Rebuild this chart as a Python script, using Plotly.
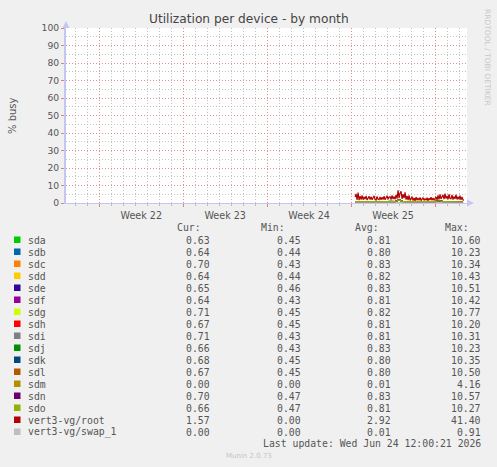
import pandas as pd
import plotly.graph_objects as go

W, H = 497, 467
L, R, T, B = 66, 30, 28, 264  # plot area pixels
PW, PH = W - L - R, H - T - B

def px(x):
    return (x - L) / PW

def py(y):
    return (H - B - y) / PH

# ---------------- data ----------------
t_fine = pd.date_range("2026-06-15 08:00", periods=110, freq="2h")
t_coarse = pd.date_range("2026-06-15 08:00", periods=28, freq="8h")

root = [3.4, 5.2, 1.8, 5.9, 1.6, 3.9, 2.0, 4.3, 1.9, 3.5,
        2.2, 4.0, 1.7, 3.4, 3.8, 1.9, 3.6, 1.8, 3.2, 4.1,
        2.0, 1.7, 3.7, 2.1, 1.9, 3.5, 1.8, 3.3, 2.0, 3.9,
        1.8, 3.2, 4.2, 2.1, 3.4, 3.6, 1.9, 4.3, 2.2, 3.7,
        2.1, 4.6, 2.5, 7.2, 2.8, 5.6, 6.7, 2.3, 5.0, 2.8,
        6.1, 1.9, 4.0, 1.7, 4.4, 1.5, 3.0, 3.6, 1.4, 2.9,
        1.3, 3.4, 1.6, 2.8, 1.5, 3.2, 1.4, 2.7, 3.1, 1.5,
        2.6, 1.6, 3.0, 1.3, 2.7, 1.7, 3.3, 1.6, 2.8, 1.5,
        3.0, 3.5, 1.8, 4.4, 2.0, 4.9, 2.3, 4.1, 4.7, 2.2,
        5.3, 2.5, 4.0, 2.1, 5.0, 2.6, 2.4, 4.6, 1.9, 3.8,
        2.3, 4.8, 2.0, 3.6, 2.1, 4.2, 1.8, 3.5, 1.7, 1.6]
swap_1 = [0.00] * 110

sda = [0.78, 0.74, 0.92, 0.70, 0.81, 0.76, 0.88, 0.72, 0.79, 0.85, 0.73, 1.90, 0.82, 0.76,
       0.71, 0.84, 0.77, 0.80, 0.69, 0.86, 0.74, 1.20, 0.78, 0.83, 0.72, 0.79, 0.70, 0.63]
sdb = [0.76, 0.80, 0.71, 0.86, 0.74, 0.79, 0.83, 0.70, 0.77, 0.88, 0.75, 1.70, 0.80, 0.73,
       0.78, 0.82, 0.71, 0.84, 0.76, 0.79, 0.72, 1.10, 0.81, 0.77, 0.74, 0.80, 0.73, 0.64]
sdc = [0.82, 0.77, 0.90, 0.73, 0.84, 0.79, 0.86, 0.75, 0.81, 0.89, 0.76, 1.80, 0.85, 0.78,
       0.74, 0.87, 0.80, 0.83, 0.72, 0.88, 0.77, 1.30, 0.81, 0.86, 0.75, 0.82, 0.74, 0.70]
sdd = [0.80, 0.75, 0.89, 0.72, 0.83, 0.78, 0.85, 0.74, 0.80, 0.87, 0.75, 1.75, 0.83, 0.77,
       0.73, 0.85, 0.78, 0.82, 0.71, 0.86, 0.76, 1.25, 0.80, 0.84, 0.74, 0.81, 0.73, 0.64]
sde = [0.83, 0.78, 0.91, 0.74, 0.85, 0.80, 0.87, 0.76, 0.82, 0.90, 0.77, 1.85, 0.86, 0.79,
       0.75, 0.88, 0.81, 0.84, 0.73, 0.89, 0.78, 1.30, 0.82, 0.87, 0.76, 0.83, 0.75, 0.65]
sdf = [0.79, 0.76, 0.88, 0.71, 0.82, 0.77, 0.86, 0.73, 0.80, 0.86, 0.74, 1.72, 0.83, 0.76,
       0.72, 0.85, 0.78, 0.81, 0.70, 0.87, 0.75, 1.22, 0.79, 0.84, 0.73, 0.80, 0.72, 0.64]
sdg = [0.80, 0.77, 0.90, 0.72, 0.83, 0.78, 0.87, 0.74, 0.81, 0.88, 0.75, 1.78, 0.84, 0.77,
       0.73, 0.86, 0.79, 0.82, 0.71, 0.88, 0.76, 1.26, 0.80, 0.85, 0.74, 0.81, 0.73, 0.71]
sdh = [0.79, 0.75, 0.89, 0.71, 0.82, 0.77, 0.86, 0.73, 0.80, 0.87, 0.74, 1.74, 0.83, 0.76,
       0.72, 0.85, 0.78, 0.81, 0.70, 0.87, 0.75, 1.24, 0.79, 0.84, 0.73, 0.80, 0.72, 0.67]
sdi = [0.79, 0.76, 0.88, 0.72, 0.82, 0.77, 0.86, 0.74, 0.80, 0.87, 0.74, 1.76, 0.83, 0.77,
       0.72, 0.85, 0.78, 0.81, 0.71, 0.87, 0.75, 1.23, 0.80, 0.84, 0.73, 0.80, 0.72, 0.71]
sdj = [0.82, 0.78, 0.91, 0.73, 0.84, 0.79, 0.88, 0.75, 0.82, 0.89, 0.76, 1.82, 0.85, 0.78,
       0.74, 0.87, 0.80, 0.83, 0.72, 0.89, 0.77, 1.28, 0.81, 0.86, 0.75, 0.82, 0.74, 0.66]
sdk = [0.78, 0.75, 0.87, 0.71, 0.81, 0.76, 0.85, 0.73, 0.79, 0.86, 0.73, 1.73, 0.82, 0.75,
       0.71, 0.84, 0.77, 0.80, 0.70, 0.86, 0.74, 1.21, 0.78, 0.83, 0.72, 0.79, 0.71, 0.68]
sdl = [0.78, 0.76, 0.87, 0.72, 0.81, 0.77, 0.85, 0.73, 0.80, 0.86, 0.74, 1.74, 0.82, 0.76,
       0.71, 0.84, 0.77, 0.80, 0.70, 0.86, 0.74, 1.22, 0.79, 0.83, 0.72, 0.79, 0.71, 0.67]
sdm = [0.00, 0.00, 0.00, 0.00, 0.00, 0.00, 0.00, 0.00, 0.00, 0.00, 0.00, 0.05, 0.00, 0.00,
       0.00, 0.00, 0.00, 0.00, 0.00, 0.00, 0.00, 0.00, 0.00, 0.00, 0.00, 0.00, 0.00, 0.00]
sdn = [0.82, 0.79, 0.92, 0.74, 0.85, 0.80, 0.88, 0.76, 0.83, 0.90, 0.77, 1.86, 0.86, 0.79,
       0.75, 0.88, 0.81, 0.84, 0.73, 0.90, 0.78, 1.30, 0.82, 0.87, 0.76, 0.83, 0.75, 0.70]
sdo = [0.80, 0.77, 0.89, 0.72, 0.83, 0.78, 0.86, 0.74, 0.81, 0.88, 0.75, 1.79, 0.84, 0.77,
       0.73, 0.86, 0.79, 0.82, 0.71, 0.88, 0.76, 1.27, 0.80, 0.85, 0.74, 0.81, 0.73, 0.66]

names = ["sda", "sdb", "sdc", "sdd", "sde", "sdf", "sdg", "sdh", "sdi", "sdj",
         "sdk", "sdl", "sdm", "sdn", "sdo", "vert3-vg/root", "vert3-vg/swap_1"]
series = [sda, sdb, sdc, sdd, sde, sdf, sdg, sdh, sdi, sdj,
          sdk, sdl, sdm, sdn, sdo, root, swap_1]
colors = ["#00CC00", "#0066B3", "#FF8000", "#FFCC00", "#330099", "#990099", "#CCFF00",
          "#FF0000", "#808080", "#008F00", "#00487D", "#B35A00", "#B38F00", "#6B006B",
          "#8FB300", "#B30000", "#BEBEBE"]
cur = ["0.63", "0.64", "0.70", "0.64", "0.65", "0.64", "0.71", "0.67", "0.71", "0.66",
       "0.68", "0.67", "0.00", "0.70", "0.66", "1.57", "0.00"]
mins = ["0.45", "0.44", "0.43", "0.44", "0.46", "0.43", "0.45", "0.45", "0.43", "0.43",
        "0.45", "0.45", "0.00", "0.47", "0.47", "0.00", "0.00"]
avgs = ["0.81", "0.80", "0.83", "0.82", "0.83", "0.81", "0.82", "0.81", "0.81", "0.83",
        "0.80", "0.80", "0.01", "0.83", "0.81", "2.92", "0.01"]
maxs = ["10.60", "10.23", "10.34", "10.43", "10.51", "10.42", "10.77", "10.20", "10.31", "10.23",
        "10.35", "10.50", "4.16", "10.57", "10.27", "41.40", "0.91"]

week_labels = ["Week 22", "Week 23", "Week 24", "Week 25"]
week_mid = ["2026-05-28 12:00", "2026-06-04 12:00", "2026-06-11 12:00", "2026-06-18 12:00"]
x_range = ["2026-05-22 05:20", "2026-06-24 16:00"]

# ---------------- figure ----------------
fig = go.Figure()
for nm, vals, col in zip(names, series, colors):
    xs = t_fine if len(vals) == len(t_fine) else t_coarse
    fig.add_trace(go.Scatter(x=xs, y=vals, mode="lines", name=nm,
                             line=dict(color=col, width=1.2), showlegend=False,
                             hoverinfo="skip"))
fig.add_trace(go.Scatter(x=week_mid, y=[0] * 4, xaxis="x2", mode="markers",
                         marker=dict(opacity=0), showlegend=False, hoverinfo="skip"))

GRID_MAJ = "#E2918F"
GRID_MIN = "#C2C2C2"
DASH = "1px,2px"
AXC = "#C6C6F2"
TXT = "#555555"
SANS = "DejaVu Sans"
MONO = "DejaVu Sans Mono"

fig.update_layout(
    width=W, height=H,
    margin=dict(l=L, r=R, t=T, b=B, pad=0),
    paper_bgcolor="#F0F0F0", plot_bgcolor="#FFFFFF",
    showlegend=False,
    xaxis=dict(type="date", range=x_range, showticklabels=False,
               tick0="2026-05-25", dtick=7 * 86400000,
               showgrid=True, gridcolor=GRID_MAJ, griddash=DASH, gridwidth=1,
               ticks="outside", ticklen=3, tickcolor="#E08080",
               minor=dict(dtick=86400000, tick0="2026-05-25", showgrid=True,
                          gridcolor=GRID_MIN, griddash=DASH, ticks="outside",
                          ticklen=2, tickcolor="#BBBBBB"),
               showline=True, linecolor=AXC, linewidth=1, zeroline=False),
    xaxis2=dict(type="date", overlaying="x", matches="x", anchor="y", side="bottom",
                tickvals=week_mid, ticktext=week_labels, showgrid=False, ticks="",
                showline=False, zeroline=False, ticklabelstandoff=5,
                tickfont=dict(family=SANS, size=9.6, color=TXT)),
    yaxis=dict(range=[0, 100], tickvals=list(range(0, 101, 10)),
               showgrid=True, gridcolor=GRID_MAJ, griddash=DASH,
               ticks="outside", ticklen=3, tickcolor="#E08080",
               minor=dict(dtick=5, showgrid=True, gridcolor=GRID_MIN, griddash=DASH),
               showline=True, linecolor=AXC, linewidth=2, zeroline=False,
               tickfont=dict(family=SANS, size=9.2, color=TXT)),
)

ann = []
ann.append(dict(text="Utilization per device - by month", x=px(249), y=py(19),
                xanchor="center", yanchor="middle",
                font=dict(family=SANS, size=12.2, color="#444444")))
ann.append(dict(text="% busy", x=px(12), y=py(116), textangle=-90,
                xanchor="center", yanchor="middle",
                font=dict(family=SANS, size=10, color=TXT)))
ann.append(dict(text="RRDTOOL / TOBI OETIKER", x=px(488), y=py(57), textangle=90,
                xanchor="center", yanchor="middle",
                font=dict(family=SANS, size=7.5, color="#C8C8C8")))

ROW0, STEP = 240, 12
hdr_y = 227
for txt, xr in [("Cur:", 203), ("Min:", 287), ("Avg:", 381), ("Max:", 471)]:
    ann.append(dict(text=txt, x=px(xr), y=py(hdr_y), xanchor="right", yanchor="middle",
                    font=dict(family=MONO, size=9.8, color=TXT)))

shapes = []
for i, nm in enumerate(names):
    yy = ROW0 + i * STEP
    shapes.append(dict(type="rect", xref="paper", yref="paper",
                       x0=px(14), x1=px(20.5), y0=py(yy + 3), y1=py(yy - 3.5),
                       fillcolor=colors[i], line=dict(width=0)))
    ann.append(dict(text=nm, x=px(26), y=py(yy), xanchor="left", yanchor="middle",
                    font=dict(family=MONO, size=9.8, color=TXT)))
    for col_vals, xr in [(cur, 212), (mins, 303), (avgs, 393), (maxs, 483)]:
        ann.append(dict(text=col_vals[i], x=px(xr), y=py(yy), xanchor="right",
                        yanchor="middle", font=dict(family=MONO, size=9.8, color=TXT)))

ann.append(dict(text="Last update: Wed Jun 24 12:00:21 2026", x=px(483), y=py(443),
                xanchor="right", yanchor="middle",
                font=dict(family=MONO, size=9.8, color=TXT)))
ann.append(dict(text="Munin 2.0.73", x=px(249), y=py(456), xanchor="center",
                yanchor="middle", font=dict(family=SANS, size=7, color="#C4C4C4")))

for a in ann:
    a.update(xref="paper", yref="paper", showarrow=False)

# axis arrows
shapes.append(dict(type="path", xref="paper", yref="paper",
                   path=f"M {px(62.5)} {py(28)} L {px(66)} {py(21)} L {px(69.5)} {py(28)} Z",
                   fillcolor=AXC, line=dict(width=0)))
shapes.append(dict(type="path", xref="paper", yref="paper",
                   path=f"M {px(467)} {py(199.5)} L {px(474)} {py(203)} L {px(467)} {py(206.5)} Z",
                   fillcolor=AXC, line=dict(width=0)))

fig.update_layout(annotations=ann, shapes=shapes)
fig.write_html("out.html", config={"displayModeBar": False},
               post_script="document.body.style.margin='0';document.body.style.padding='0';")
